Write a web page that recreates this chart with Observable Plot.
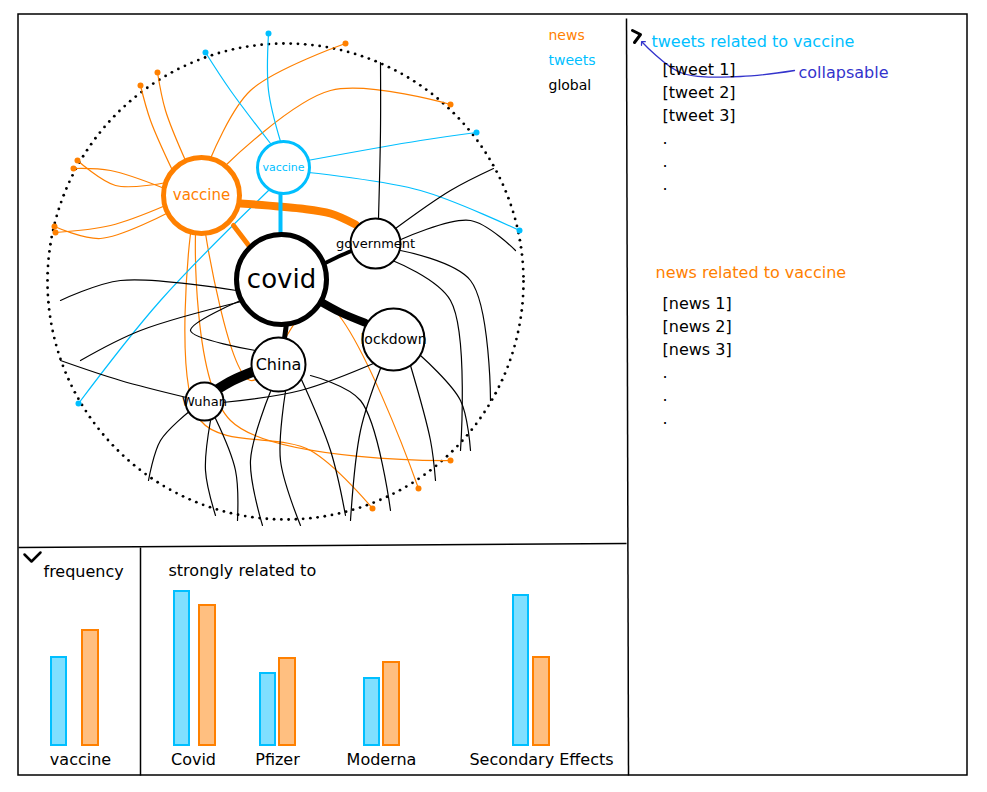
<!DOCTYPE html>
<html>
<head>
<meta charset="utf-8">
<script src="https://cdn.jsdelivr.net/npm/d3@7"></script>
<script src="https://cdn.jsdelivr.net/npm/@observablehq/plot@0.6"></script>
<style>body{margin:0;background:#fff}</style>
</head>
<body>
<div id="chart"></div>
<script>
// graph nodes
var nodeNames = ["vaccine", "vaccine", "covid", "government", "lockdown", "China", "Wuhan"];
var nodeKinds = ["news", "tweets", "global", "global", "global", "global", "global"];
var nodeX = [201, 283, 281, 375, 393, 278, 204];
var nodeY = [195, 167, 279, 243, 339, 364, 401];
var nodeR = [38, 26, 45, 25, 31, 27, 19];
var nodeFont = [15, 11, 26, 13, 14, 16, 13];

// thick edges between nodes
var strongEdges = [
  {kind: "news", w: 8, pts: [[240, 203], [300, 208], [330, 213], [355, 224]]},
  {kind: "news", w: 5, pts: [[233, 225], [249, 246]]},
  {kind: "tweets", w: 4, pts: [[280, 193], [280, 235]]},
  {kind: "global", w: 4, pts: [[322, 264], [338, 256], [352, 250]]},
  {kind: "global", w: 8, pts: [[318, 300], [340, 312], [364, 322]]},
  {kind: "global", w: 5, pts: [[286, 323], [284, 338]]},
  {kind: "global", w: 10, pts: [[253, 371], [232, 380], [215, 390]]}
];

// thin edges out to the border
var thinEdges = [
  {kind: "news", pts: [[165, 205], [110, 225], [55, 232]]},
  {kind: "news", pts: [[168, 212], [100, 238], [54, 226]]},
  {kind: "news", pts: [[164, 188], [110, 170], [73, 168]]},
  {kind: "news", pts: [[166, 182], [115, 185], [77, 160]]},
  {kind: "news", pts: [[172, 170], [150, 120], [140, 85]]},
  {kind: "news", pts: [[185, 160], [165, 110], [157, 72]]},
  {kind: "news", pts: [[210, 158], [250, 90], [345, 43]]},
  {kind: "news", pts: [[225, 165], [330, 90], [450, 104]]},
  {kind: "news", pts: [[195, 233], [230, 420], [450, 460]]},
  {kind: "news", pts: [[205, 233], [250, 380], [320, 300], [418, 488]]},
  {kind: "news", pts: [[190, 233], [200, 420], [310, 450], [372, 508]]},
  {kind: "tweets", pts: [[270, 143], [230, 90], [205, 52]]},
  {kind: "tweets", pts: [[280, 141], [268, 90], [268, 33]]},
  {kind: "tweets", pts: [[307, 160], [420, 140], [476, 132]]},
  {kind: "tweets", pts: [[308, 172], [420, 190], [519, 230]]},
  {kind: "tweets", pts: [[268, 190], [160, 300], [78, 403]]},
  {kind: "global", pts: [[378, 218], [380, 130], [380, 62]]},
  {kind: "global", pts: [[395, 228], [450, 190], [493, 168]]},
  {kind: "global", pts: [[398, 240], [470, 220], [515, 250]]},
  {kind: "global", pts: [[392, 260], [450, 300], [460, 450]]},
  {kind: "global", pts: [[400, 250], [470, 280], [490, 400]]},
  {kind: "global", pts: [[236, 290], [120, 280], [60, 300]]},
  {kind: "global", pts: [[245, 300], [140, 330], [80, 360]]},
  {kind: "global", pts: [[420, 355], [460, 400], [470, 450]]},
  {kind: "global", pts: [[410, 365], [430, 440], [435, 480]]},
  {kind: "global", pts: [[380, 368], [360, 430], [350, 520]]},
  {kind: "global", pts: [[300, 377], [330, 450], [345, 515]]},
  {kind: "global", pts: [[285, 391], [280, 460], [300, 525]]},
  {kind: "global", pts: [[270, 391], [250, 460], [262, 525]]},
  {kind: "global", pts: [[210, 420], [205, 470], [215, 515]]},
  {kind: "global", pts: [[215, 418], [235, 470], [237, 520]]},
  {kind: "global", pts: [[190, 410], [160, 440], [148, 480]]},
  {kind: "global", pts: [[186, 397], [120, 380], [60, 360]]},
  {kind: "global", pts: [[255, 350], [190, 330], [240, 300]]},
  {kind: "global", pts: [[222, 402], [300, 390], [380, 360]]},
  {kind: "global", pts: [[310, 375], [360, 400], [390, 510]]}
];

// legend
var legendNames = ["news", "tweets", "global"];
var kindColor = {news: "#ff8000", tweets: "#00bfff", global: "#000"};

// right panel lists
var tweetItems = ["[tweet 1]", "[tweet 2]", "[tweet 3]", ".", ".", "."];
var newsItems = ["[news 1]", "[news 2]", "[news 3]", ".", ".", "."];

// bars
var barCats = ["vaccine", "Covid", "Pfizer", "Moderna", "Secondary Effects"];
var labelX = [80, 193, 277, 381, 541];
var tweetBarX = [51, 174, 260, 364, 513];
var newsBarX = [82, 199, 279, 383, 533];
var tweetVals = [88, 154, 72, 67, 150];
var newsVals = [115, 140, 87, 83, 88];

var base = 745;
var nodes = nodeNames.map(function(n, i) {
  return {name: n, kind: nodeKinds[i], x: nodeX[i], y: nodeY[i], r: nodeR[i], f: nodeFont[i]};
});
function flat(list) {
  var out = [];
  list.forEach(function(e, i) { e.pts.forEach(function(p) { out.push({id: i, kind: e.kind, w: e.w || 1.2, x: p[0], y: p[1]}); }); });
  return out;
}
var bars = [];
barCats.forEach(function(c, i) {
  bars.push({kind: "tweets", x1: tweetBarX[i], x2: tweetBarX[i] + 15, v: tweetVals[i]});
  bars.push({kind: "news", x1: newsBarX[i], x2: newsBarX[i] + 16, v: newsVals[i]});
});
var ring = d3.range(0, 360, 1.75).map(function(a) {
  return {x: 285 + 238 * Math.cos(a * Math.PI / 180), y: 281 + 238 * Math.sin(a * Math.PI / 180)};
});
function col(d) { return kindColor[d.kind]; }
var font = "DejaVu Sans, sans-serif";

var plot = Plot.plot({
  width: 987, height: 792, margin: 0,
  x: {domain: [0, 987], axis: null},
  y: {domain: [792, 0], axis: null},
  r: {type: "identity"},
  style: {fontFamily: font, background: "#fff"},
  marks: [
    // frames
    Plot.rect([{}], {x1: 18, x2: 967, y1: 14, y2: 775, fill: "none", stroke: "#000", strokeWidth: 1.5}),
    Plot.link([{a: 626, b: 18, c: 628, d: 775}, {a: 18, b: 547, c: 626, d: 543}, {a: 140, b: 547, c: 140, d: 775}],
      {x1: "a", y1: "b", x2: "c", y2: "d", stroke: "#000", strokeWidth: 1.5}),
    Plot.dot(ring, {x: "x", y: "y", r: 1.4, fill: "#000"}),
    Plot.line(flat(thinEdges), {x: "x", y: "y", z: "id", stroke: col, strokeWidth: 1.2, curve: "catmull-rom"}),
    Plot.line(flat(strongEdges), {x: "x", y: "y", z: "id", stroke: col, strokeWidth: function(d) { return d.w; }, curve: "catmull-rom"}),
    Plot.dot(flat(thinEdges).filter(function(d, i, a) { return d.kind !== "global" && (i === a.length - 1 || a[i + 1].id !== d.id); }),
      {x: "x", y: "y", r: 3, fill: col}),
    Plot.dot(nodes, {x: "x", y: "y", r: "r", fill: "#fff", stroke: col, strokeWidth: function(d) { return d.name === "covid" || d.kind === "news" ? 5 : d.kind === "tweets" ? 3 : 2; }}),
    Plot.text(nodes, {x: "x", y: "y", text: "name", fill: col, fontSize: "f"}),
    // legend
    Plot.text(legendNames, {x: 548, y: function(d, i) { return 35 + i * 25; }, text: function(d) { return d; }, fill: function(d) { return kindColor[d]; }, textAnchor: "start", fontSize: 14}),
    // right panel
    Plot.line([[632, 30], [640, 34], [634, 42]], {x: "0", y: "1", stroke: "#000", strokeWidth: 3}),
    Plot.text(["tweets related to vaccine"], {x: 651, y: 41, text: function(d) { return d; }, fill: "#00bfff", textAnchor: "start", fontSize: 16}),
    Plot.text(["collapsable"], {x: 798, y: 72, text: function(d) { return d; }, fill: "#3333cc", textAnchor: "start", fontSize: 16}),
    Plot.line([[794, 70], [740, 76], [680, 72], [642, 42]], {x: "0", y: "1", stroke: "#3333cc", strokeWidth: 1.3, curve: "catmull-rom", markerEnd: "arrow"}),
    Plot.text(tweetItems, {x: 662, y: function(d, i) { return 69 + i * 23; }, text: function(d) { return d; }, textAnchor: "start", fontSize: 16}),
    Plot.text(["news related to vaccine"], {x: 655, y: 272, text: function(d) { return d; }, fill: "#ff8000", textAnchor: "start", fontSize: 16}),
    Plot.text(newsItems, {x: 662, y: function(d, i) { return 303 + i * 23; }, text: function(d) { return d; }, textAnchor: "start", fontSize: 16}),
    // bottom panels
    Plot.line([[24, 554], [31, 561], [40, 552]], {x: "0", y: "1", stroke: "#000", strokeWidth: 2.5}),
    Plot.text(["frequency"], {x: 43, y: 571, text: function(d) { return d; }, textAnchor: "start", fontSize: 16}),
    Plot.text(["strongly related to"], {x: 168, y: 570, text: function(d) { return d; }, textAnchor: "start", fontSize: 16}),
    Plot.rect(bars, {x1: "x1", x2: "x2", y1: base, y2: function(d) { return base - d.v; },
      fill: function(d) { return d.kind === "news" ? "#ffbf80" : "#80dfff"; }, stroke: col, strokeWidth: 2}),
    Plot.text(barCats, {x: function(d, i) { return labelX[i]; }, y: 759, text: function(d) { return d; }, fontSize: 16})
  ]
});
document.getElementById("chart").appendChild(plot);
</script>
</body>
</html>
